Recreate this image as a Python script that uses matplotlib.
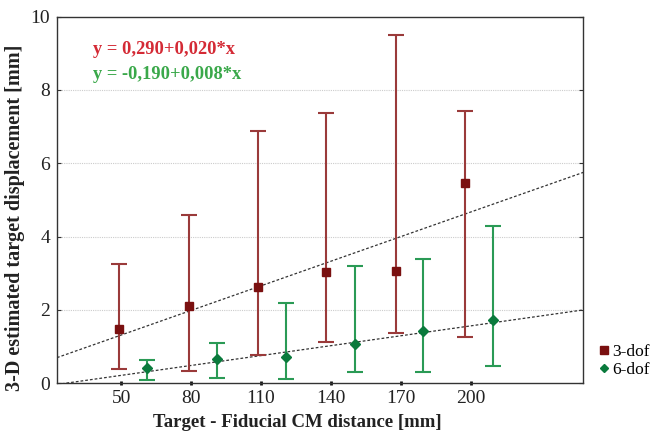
import matplotlib
matplotlib.use("Agg")
import matplotlib.pyplot as plt
from matplotlib.lines import Line2D
import numpy as np

plt.rcParams['font.family'] = ['Liberation Serif', 'DejaVu Serif']

# categories (tick labels)
distances = [50, 80, 110, 140, 170, 200]
# plotted x positions
x_3dof = [49.3, 79.0, 108.8, 138.1, 168.0, 197.6]
x_6dof = [61.3, 91.1, 120.7, 150.4, 179.7, 209.5]

# 3-dof series
mean_3dof = [1.48, 2.11, 2.63, 3.04, 3.07, 5.47]
upper_3dof = [3.25, 4.59, 6.88, 7.36, 9.50, 7.42]
lower_3dof = [0.38, 0.34, 0.77, 1.13, 1.36, 1.27]

# 6-dof series
mean_6dof = [0.41, 0.65, 0.73, 1.06, 1.43, 1.73]
upper_6dof = [0.64, 1.11, 2.18, 3.21, 3.38, 4.28]
lower_6dof = [0.10, 0.15, 0.11, 0.30, 0.32, 0.48]

# trend lines as drawn (intercept, slope in plotted axis units)
trend_3dof = (0.197, 0.02237)
trend_6dof = (-0.234, 0.0090)

eq_3dof = "y = 0,290+0,020*x"
eq_6dof = "y = -0,190+0,008*x"

xlim = (22.5, 248.3)
ylim = (0, 10)

fig = plt.figure(figsize=(6.51, 4.34), dpi=100)
ax = fig.add_axes([57/651, 1-383.3/434, (583.3-57)/651, (383.3-16.6)/434])

red_bar = '#9a3a3a'
red_mk = '#7a1010'
grn_bar = '#2a9a55'
grn_mk = '#0a7a3c'

for y in [2, 4, 6, 8]:
    ax.axhline(y, color='#cccccc', lw=0.8, ls=(0, (1, 1)), zorder=0)

xx = np.array(xlim)
ax.plot(xx, trend_3dof[0] + trend_3dof[1]*xx, color='#333333', lw=0.9,
        ls=(0, (2.2, 1.6)), zorder=1)
ax.plot(xx, trend_6dof[0] + trend_6dof[1]*xx, color='#333333', lw=0.9,
        ls=(0, (2.2, 1.6)), zorder=1)

m3 = np.array(mean_3dof)
ax.errorbar(x_3dof, m3, yerr=[m3-np.array(lower_3dof), np.array(upper_3dof)-m3],
            fmt='none', ecolor=red_bar, elinewidth=1.5, capsize=5.8, capthick=1.5, zorder=2)
ax.plot(x_3dof, m3, 's', color=red_mk, ms=6.3, mec=red_mk, zorder=3)

m6 = np.array(mean_6dof)
ax.errorbar(x_6dof, m6, yerr=[m6-np.array(lower_6dof), np.array(upper_6dof)-m6],
            fmt='none', ecolor=grn_bar, elinewidth=1.5, capsize=5.8, capthick=1.5, zorder=2)
ax.plot(x_6dof, m6, 'D', color=grn_mk, ms=5.2, mec=grn_mk, zorder=3)

ax.set_xlim(*xlim)
ax.set_ylim(*ylim)
ax.set_xticks(distances)
ax.set_xticklabels([str(d) for d in distances])
ax.set_yticks([0, 2, 4, 6, 8, 10])
ax.tick_params(axis='y', direction='in', length=3, width=0.8, labelsize=14,
               right=True, left=True, colors='#333333', pad=5)
ax.tick_params(axis='x', direction='inout', length=3, width=2, labelsize=14,
               colors='#111111', pad=3)
for lab in ax.get_xticklabels() + ax.get_yticklabels():
    lab.set_color('#222222')
for s in ['left', 'right', 'top', 'bottom']:
    ax.spines[s].set_color('#333333')
    ax.spines[s].set_linewidth(1.0)

ax.set_xlabel("Target - Fiducial CM distance [mm]", fontsize=13.5, fontweight='bold',
              color='#222222')
ax.set_ylabel("3-D estimated target displacement [mm]", fontsize=14.5, fontweight='bold',
              color='#222222')
ax.xaxis.set_label_coords(0.456, -0.108)
ax.yaxis.set_label_coords(-0.08, 0.451)
ax.xaxis.label.set_va('center')
ax.yaxis.label.set_va('center')

ax.text(0.068, 0.909, eq_3dof, transform=ax.transAxes, color='#d42a35',
        fontsize=13.3, fontweight='bold', va='center', ha='left')
ax.text(0.068, 0.841, eq_6dof, transform=ax.transAxes, color='#3aa84a',
        fontsize=13.3, fontweight='bold', va='center', ha='left')

handles = [Line2D([], [], marker='s', color=red_mk, ls='none', ms=5.5),
           Line2D([], [], marker='D', color=grn_mk, ls='none', ms=4.5)]
fig.legend(handles, ['3-dof', '6-dof'], loc='center left',
           bbox_to_anchor=(590/651, 1-361/434), frameon=False, fontsize=12.5,
           handlelength=0.6, handletextpad=0.2, labelspacing=0.15, borderpad=0)

fig.savefig('out.png', dpi=100)
